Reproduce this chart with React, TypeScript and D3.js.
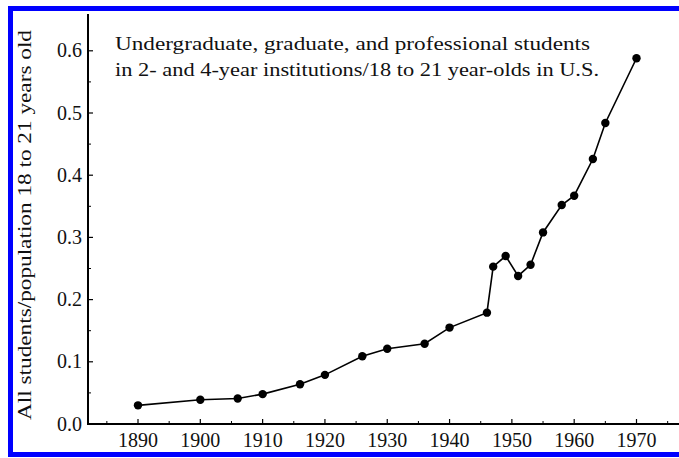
import React from "react";
import * as d3 from "d3";

const years = [1890, 1900, 1906, 1910, 1916, 1920, 1926, 1930, 1936, 1940, 1946, 1947, 1949, 1951, 1953, 1955, 1958, 1960, 1963, 1965, 1970];
const values = [0.03, 0.039, 0.041, 0.048, 0.064, 0.079, 0.109, 0.121, 0.129, 0.155, 0.179, 0.253, 0.27, 0.238, 0.256, 0.308, 0.352, 0.367, 0.426, 0.484, 0.588];
const xTicks = [1890, 1900, 1910, 1920, 1930, 1940, 1950, 1960, 1970];
const xMinorTicks = [1885, 1895, 1905, 1915, 1925, 1935, 1945, 1955, 1965, 1975];
const yTicks = [0.0, 0.1, 0.2, 0.3, 0.4, 0.5, 0.6];
const yMinorTicks = [0.05, 0.15, 0.25, 0.35, 0.45, 0.55];
const titleLines = [
  "Undergraduate, graduate, and professional students",
  "in 2- and 4-year institutions/18 to 21 year-olds in U.S.",
];
const titleWidths = [475, 484];
const yLabel = "All students/population 18 to 21 years old";

const W = 679;
const H = 458;
const FONT = "'Liberation Serif', 'DejaVu Serif', serif";

export default function App() {
  const x = d3.scaleLinear().domain([1890, 1970]).range([138, 636.5]);
  const y = d3.scaleLinear().domain([0, 0.6]).range([424, 50.8]);
  const axisLeft = 88;
  const axisRight = 679;
  const axisTop = 14;
  const y0 = y(0);
  const pts = years.map((yr, i) => [x(yr), y(values[i])] as [number, number]);
  const line = d3.line()(pts) || "";
  const textStyle = { fontFamily: FONT };

  return (
    <svg
      width={W}
      height={H}
      style={{ position: "absolute", left: 0, top: 0, background: "#fff" }}
    >
      <rect x={0} y={0} width={W} height={H} fill="#fff" />
      <rect x={10.5} y={8.5} width={720} height={446} fill="none" stroke="#0000ff" strokeWidth={5} />
      {/* axes */}
      <line x1={axisLeft} x2={axisLeft} y1={axisTop} y2={y0 + 1} stroke="#000" strokeWidth={2} />
      <line x1={axisLeft} x2={axisRight} y1={y0} y2={y0} stroke="#000" strokeWidth={2} />
      {yTicks.map((t) => (
        <g key={"yt" + t}>
          <line x1={axisLeft} x2={axisLeft + 5} y1={y(t)} y2={y(t)} stroke="#000" strokeWidth={1.2} />
          <text x={82} y={y(t)} dy="0.33em" textAnchor="end" fontSize={20} fill="#111" style={textStyle}>
            {t.toFixed(1)}
          </text>
        </g>
      ))}
      {yMinorTicks.map((t) => (
        <line key={"ym" + t} x1={axisLeft} x2={axisLeft + 3} y1={y(t)} y2={y(t)} stroke="#000" strokeWidth={1} />
      ))}
      {xTicks.map((t) => (
        <g key={"xt" + t}>
          <line x1={x(t)} x2={x(t)} y1={y0} y2={y0 - 5} stroke="#000" strokeWidth={1.2} />
          <text x={x(t)} y={447} textAnchor="middle" fontSize={20} fill="#111" style={textStyle}>
            {t}
          </text>
        </g>
      ))}
      {xMinorTicks.map((t) => (
        <line key={"xm" + t} x1={x(t)} x2={x(t)} y1={y0} y2={y0 - 3} stroke="#000" strokeWidth={1} />
      ))}
      {/* y label */}
      <text
        transform={`translate(31, 225) rotate(-90)`}
        textAnchor="middle"
        fontSize={19}
        fill="#111"
        textLength={390}
        lengthAdjust="spacingAndGlyphs"
        style={textStyle}
      >
        {yLabel}
      </text>
      {/* title */}
      {titleLines.map((l, i) => (
        <text
          key={i}
          x={115}
          y={50 + i * 26}
          fontSize={19}
          fill="#111"
          textLength={titleWidths[i]}
          lengthAdjust="spacingAndGlyphs"
          style={textStyle}
        >
          {l}
        </text>
      ))}
      {/* data */}
      <path d={line} fill="none" stroke="#000" strokeWidth={1.6} />
      {pts.map((p, i) => (
        <circle key={i} cx={p[0]} cy={p[1]} r={4.2} fill="#000" />
      ))}
    </svg>
  );
}
